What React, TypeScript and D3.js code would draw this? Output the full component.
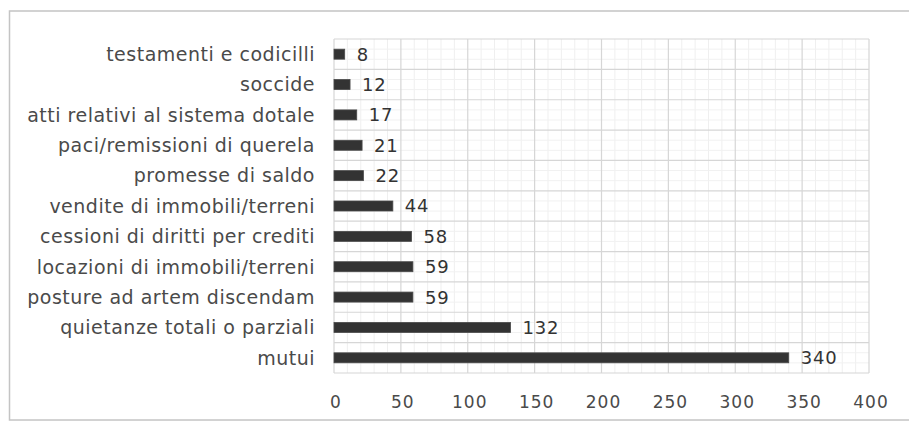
import React, { useEffect, useRef } from "react";
import * as d3 from "d3";

const categories = [
  "testamenti e codicilli",
  "soccide",
  "atti relativi al sistema dotale",
  "paci/remissioni di querela",
  "promesse di saldo",
  "vendite di immobili/terreni",
  "cessioni di diritti per crediti",
  "locazioni di immobili/terreni",
  "posture ad artem discendam",
  "quietanze totali o parziali",
  "mutui",
];
const values = [8, 12, 17, 21, 22, 44, 58, 59, 59, 132, 340];
const xTicks = [0, 50, 100, 150, 200, 250, 300, 350, 400];

const App = () => {
  const ref = useRef<SVGSVGElement>(null);

  useEffect(() => {
    const svg = d3.select(ref.current);
    svg.selectAll("*").remove();

    const left = 334;
    const right = 869;
    const top = 39;
    const bottom = 373;
    const font = "'DejaVu Sans', Verdana, sans-serif";

    const x = d3.scaleLinear().domain([0, 400]).range([left, right]);
    const y = d3.scaleBand().domain(categories).range([top, bottom]).paddingInner(0).paddingOuter(0);

    // outer frame
    svg
      .append("rect")
      .attr("x", 9.5)
      .attr("y", 11)
      .attr("width", 920)
      .attr("height", 409)
      .attr("fill", "#fff")
      .attr("stroke", "#c4c4c4")
      .attr("stroke-width", 1.5);

    const grid = svg.append("g");

    // minor vertical
    grid
      .selectAll("line.vmin")
      .data(d3.range(0, 401, 10).filter((v) => v % 50 !== 0))
      .enter()
      .append("line")
      .attr("x1", (d) => x(d))
      .attr("x2", (d) => x(d))
      .attr("y1", top)
      .attr("y2", bottom)
      .attr("stroke", "#efefef")
      .attr("stroke-width", 1);

    // minor horizontal
    const minorH: number[] = [];
    categories.forEach((c) => {
      for (let k = 1; k < 3; k++) minorH.push((y(c) as number) + (y.bandwidth() * k) / 3);
    });
    grid
      .selectAll("line.hmin")
      .data(minorH)
      .enter()
      .append("line")
      .attr("x1", left)
      .attr("x2", right)
      .attr("y1", (d) => d)
      .attr("y2", (d) => d)
      .attr("stroke", "#f1f1f1")
      .attr("stroke-width", 1);

    // major vertical
    grid
      .selectAll("line.vmaj")
      .data(xTicks)
      .enter()
      .append("line")
      .attr("x1", (d) => x(d))
      .attr("x2", (d) => x(d))
      .attr("y1", top)
      .attr("y2", bottom)
      .attr("stroke", "#d6d6d6")
      .attr("stroke-width", 1.2);

    // major horizontal
    grid
      .selectAll("line.hmaj")
      .data(categories.map((c) => y(c) as number).concat([bottom]))
      .enter()
      .append("line")
      .attr("x1", left)
      .attr("x2", right)
      .attr("y1", (d) => d)
      .attr("y2", (d) => d)
      .attr("stroke", "#d6d6d6")
      .attr("stroke-width", 1.2);

    const barH = 10;

    svg
      .selectAll("rect.bar")
      .data(values)
      .enter()
      .append("rect")
      .attr("x", x(0))
      .attr("y", (d, i) => (y(categories[i]) as number) + y.bandwidth() / 2 - barH / 2)
      .attr("width", (d) => x(d) - x(0))
      .attr("height", barH)
      .attr("fill", "#333333")
      .attr("stroke", "#4a4a4a")
      .attr("stroke-width", 0.8);

    // value labels
    svg
      .selectAll("text.val")
      .data(values)
      .enter()
      .append("text")
      .attr("x", (d) => x(d) + 12)
      .attr("y", (d, i) => (y(categories[i]) as number) + y.bandwidth() / 2)
      .attr("dy", "0.36em")
      .attr("font-family", font)
      .attr("font-size", 18)
      .attr("letter-spacing", 0.8)
      .attr("fill", "#333")
      .text((d) => d);

    // category labels
    svg
      .selectAll("text.cat")
      .data(categories)
      .enter()
      .append("text")
      .attr("x", 315)
      .attr("y", (d) => (y(d) as number) + y.bandwidth() / 2)
      .attr("dy", "0.36em")
      .attr("text-anchor", "end")
      .attr("font-family", font)
      .attr("font-size", 19)
      .attr("letter-spacing", 0.5)
      .attr("fill", "#4a4a4a")
      .text((d) => d);

    // x tick labels
    svg
      .selectAll("text.tick")
      .data(xTicks)
      .enter()
      .append("text")
      .attr("x", (d) => x(d) + 2)
      .attr("y", 402)
      .attr("dy", "0.36em")
      .attr("text-anchor", "middle")
      .attr("font-family", font)
      .attr("font-size", 17)
      .attr("letter-spacing", 1)
      .attr("fill", "#4a4a4a")
      .text((d) => d);
  }, []);

  return (
    <svg
      ref={ref}
      width={909}
      height={423}
      style={{ position: "absolute", left: 0, top: 0, display: "block" }}
    />
  );
};

export default App;
